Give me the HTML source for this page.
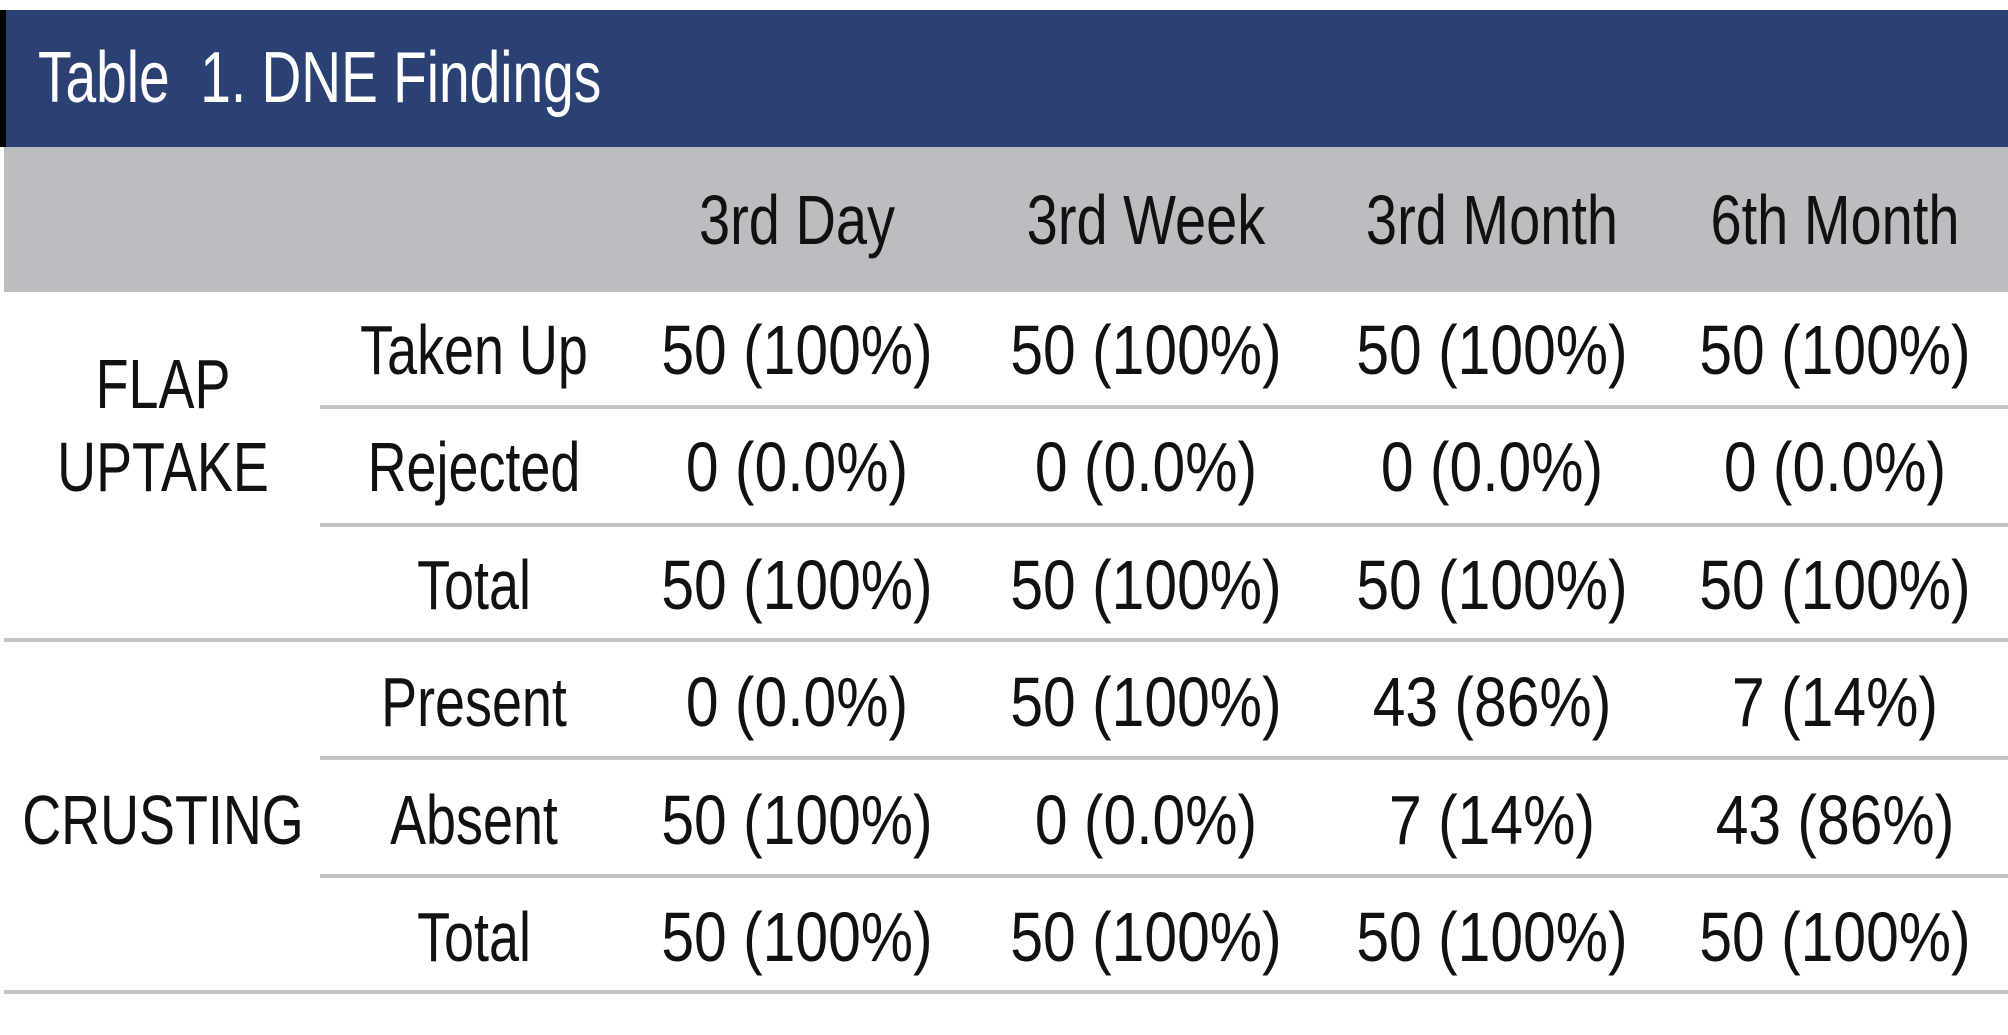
<!DOCTYPE html>
<html><head><meta charset="utf-8"><style>
html,body{margin:0;padding:0;background:#fff;}
body{width:2008px;height:1035px;position:relative;overflow:hidden;font-family:"Liberation Sans",sans-serif;color:#111;}
.blue{position:absolute;left:0;top:10px;width:2008px;height:137px;background:#2c4173;}
.bar{position:absolute;left:0;top:10px;width:6px;height:137px;background:#000;}
.title{position:absolute;left:38px;top:38px;font-size:72px;line-height:80px;color:#fff;white-space:pre;transform:scaleX(0.765);transform-origin:0 0;}
.gray{position:absolute;left:4px;top:147px;width:2004px;height:145px;background:#bcbdc0;}
.t{position:absolute;width:400px;margin-left:-200px;text-align:center;font-size:70px;line-height:80px;white-space:nowrap;transform:scaleX(0.84);}
.l{transform:scaleX(0.77);}
.h{transform:scaleX(0.8);}
.ln{position:absolute;height:4px;background:#c4c4c4;}
</style></head><body>
<div class="blue"></div><div class="bar"></div>
<div class="title">Table  1. DNE Findings</div>
<div class="gray"></div>
<div class="t h" style="left:797px;top:180px">3rd Day</div>
<div class="t h" style="left:1146px;top:180px">3rd Week</div>
<div class="t h" style="left:1492px;top:180px">3rd Month</div>
<div class="t h" style="left:1835px;top:180px">6th Month</div>

<div class="t l" style="left:163px;top:344px">FLAP</div>
<div class="t l" style="left:163px;top:427px">UPTAKE</div>
<div class="t l" style="left:163px;top:780px">CRUSTING</div>

<div class="t l" style="left:474px;top:310px">Taken Up</div>
<div class="t" style="left:797px;top:310px">50 (100%)</div>
<div class="t" style="left:1146px;top:310px">50 (100%)</div>
<div class="t" style="left:1492px;top:310px">50 (100%)</div>
<div class="t" style="left:1835px;top:310px">50 (100%)</div>

<div class="t l" style="left:474px;top:427px">Rejected</div>
<div class="t" style="left:797px;top:427px">0 (0.0%)</div>
<div class="t" style="left:1146px;top:427px">0 (0.0%)</div>
<div class="t" style="left:1492px;top:427px">0 (0.0%)</div>
<div class="t" style="left:1835px;top:427px">0 (0.0%)</div>

<div class="t l" style="left:474px;top:545px">Total</div>
<div class="t" style="left:797px;top:545px">50 (100%)</div>
<div class="t" style="left:1146px;top:545px">50 (100%)</div>
<div class="t" style="left:1492px;top:545px">50 (100%)</div>
<div class="t" style="left:1835px;top:545px">50 (100%)</div>

<div class="t l" style="left:474px;top:662px">Present</div>
<div class="t" style="left:797px;top:662px">0 (0.0%)</div>
<div class="t" style="left:1146px;top:662px">50 (100%)</div>
<div class="t" style="left:1492px;top:662px">43 (86%)</div>
<div class="t" style="left:1835px;top:662px">7 (14%)</div>

<div class="t l" style="left:474px;top:780px">Absent</div>
<div class="t" style="left:797px;top:780px">50 (100%)</div>
<div class="t" style="left:1146px;top:780px">0 (0.0%)</div>
<div class="t" style="left:1492px;top:780px">7 (14%)</div>
<div class="t" style="left:1835px;top:780px">43 (86%)</div>

<div class="t l" style="left:474px;top:897px">Total</div>
<div class="t" style="left:797px;top:897px">50 (100%)</div>
<div class="t" style="left:1146px;top:897px">50 (100%)</div>
<div class="t" style="left:1492px;top:897px">50 (100%)</div>
<div class="t" style="left:1835px;top:897px">50 (100%)</div>

<div class="ln" style="left:320px;top:405px;width:1688px"></div>
<div class="ln" style="left:320px;top:523px;width:1688px"></div>
<div class="ln" style="left:4px;top:638px;width:2004px"></div>
<div class="ln" style="left:320px;top:756px;width:1688px"></div>
<div class="ln" style="left:320px;top:874px;width:1688px"></div>
<div class="ln" style="left:4px;top:990px;width:2004px"></div>
</body></html>
